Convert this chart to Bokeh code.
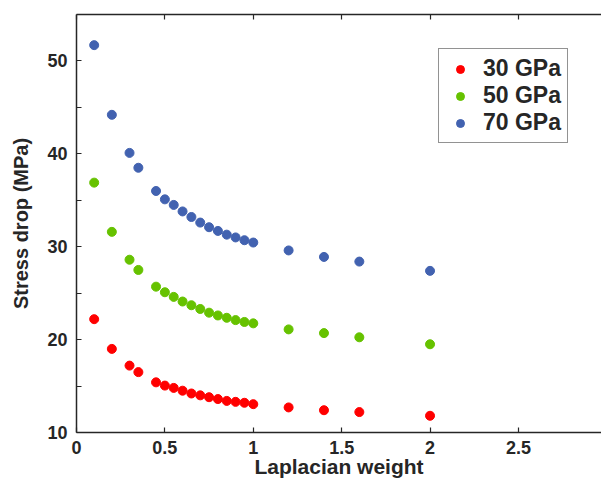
from bokeh.plotting import figure
from bokeh.models import Range1d, FixedTicker, LinearAxis, Legend, LegendItem, CustomLabelingPolicy
from bokeh.embed import file_html
from bokeh.resources import INLINE

# ---- data ----
laplacian_weight = [0.1, 0.2, 0.3, 0.35, 0.45, 0.5, 0.55, 0.6, 0.65, 0.7,
                    0.75, 0.8, 0.85, 0.9, 0.95, 1.0, 1.2, 1.4, 1.6, 2.0]
stress_30 = [22.2, 19.0, 17.2, 16.5, 15.4, 15.05, 14.8, 14.5, 14.2, 14.0,
             13.8, 13.6, 13.4, 13.3, 13.2, 13.05, 12.7, 12.4, 12.2, 11.8]
stress_50 = [36.9, 31.6, 28.6, 27.5, 25.7, 25.1, 24.6, 24.1, 23.7, 23.3,
             22.9, 22.6, 22.35, 22.1, 21.9, 21.75, 21.1, 20.7, 20.25, 19.5]
stress_70 = [51.7, 44.2, 40.1, 38.5, 36.0, 35.1, 34.5, 33.8, 33.2, 32.6,
             32.1, 31.7, 31.3, 31.0, 30.7, 30.45, 29.6, 28.9, 28.4, 27.4]
series_labels = ["30 GPa", "50 GPa", "70 GPa"]
series_colors = ["#ff0000", "#66c200", "#4262b0"]

x_ticks = [0, 0.5, 1, 1.5, 2, 2.5, 3]
x_tick_labels = ["0", "0.5", "1", "1.5", "2", "2.5", "3"]
y_ticks = [10, 20, 30, 40, 50]
y_minor_ticks = [15, 25, 35, 45]

FONT = "Liberation Sans"
TXT = "#262626"

p = figure(width=601, height=482, output_backend="svg", toolbar_location=None,
           x_range=Range1d(0, 2.97), y_range=Range1d(10, 55),
           min_border_left=76, min_border_right=0, min_border_top=14,
           min_border_bottom=50, x_axis_label="Laplacian weight",
           y_axis_label="Stress drop (MPa)")
p.outline_line_color = None
p.grid.visible = False
p.background_fill_color = "white"
p.border_fill_color = "white"

renderers = []
for ys, col in zip([stress_30, stress_50, stress_70], series_colors):
    r = p.scatter(laplacian_weight, ys, size=9, fill_color=col, line_color=col)
    renderers.append(r)

def style_axis(ax):
    ax.axis_line_color = TXT
    ax.axis_line_width = 1.5
    ax.major_tick_line_color = TXT
    ax.minor_tick_line_color = TXT
    ax.major_tick_line_width = 1.2
    ax.minor_tick_line_width = 1.2
    ax.major_tick_in = 5
    ax.major_tick_out = 0
    ax.minor_tick_in = 5
    ax.minor_tick_out = 0
    ax.major_label_text_font = FONT
    ax.major_label_text_font_style = "bold"
    ax.major_label_text_color = TXT
    ax.major_label_text_font_size = "18px"
    ax.axis_label_text_font = FONT
    ax.axis_label_text_font_style = "bold"
    ax.axis_label_text_color = TXT
    ax.axis_label_text_font_size = "20px"

xax = p.xaxis[0]
xax.ticker = FixedTicker(ticks=x_ticks)
xax.major_label_overrides = {t: l for t, l in zip(x_ticks, x_tick_labels)}
style_axis(xax)
xax.axis_label_text_font_size = "21px"
xax.major_label_standoff = 8
xax.axis_label_standoff = -2

yax = p.yaxis[0]
yax.ticker = FixedTicker(ticks=y_ticks, minor_ticks=y_minor_ticks)
style_axis(yax)
yax.major_label_standoff = 9
yax.axis_label_standoff = 12

top = LinearAxis(ticker=FixedTicker(ticks=x_ticks),
                 major_label_policy=CustomLabelingPolicy(code="return []"))
style_axis(top)
top.major_label_text_font_size = "1px"
top.major_label_standoff = 0
p.add_layout(top, "above")

legend = Legend(items=[LegendItem(label=l, renderers=[r])
                       for l, r in zip(series_labels, renderers)],
                location=(362, 289))
legend.label_text_font = FONT
legend.label_text_font_style = "bold"
legend.label_text_font_size = "23px"
legend.label_text_color = TXT
legend.border_line_color = TXT
legend.border_line_width = 1.3
legend.padding = 6
legend.margin = 0
legend.spacing = 0
legend.glyph_width = 30
legend.glyph_height = 20
legend.label_height = 20
legend.label_standoff = 8
legend.background_fill_alpha = 1
p.add_layout(legend)

open("out.html", "w").write(file_html(p, INLINE))
